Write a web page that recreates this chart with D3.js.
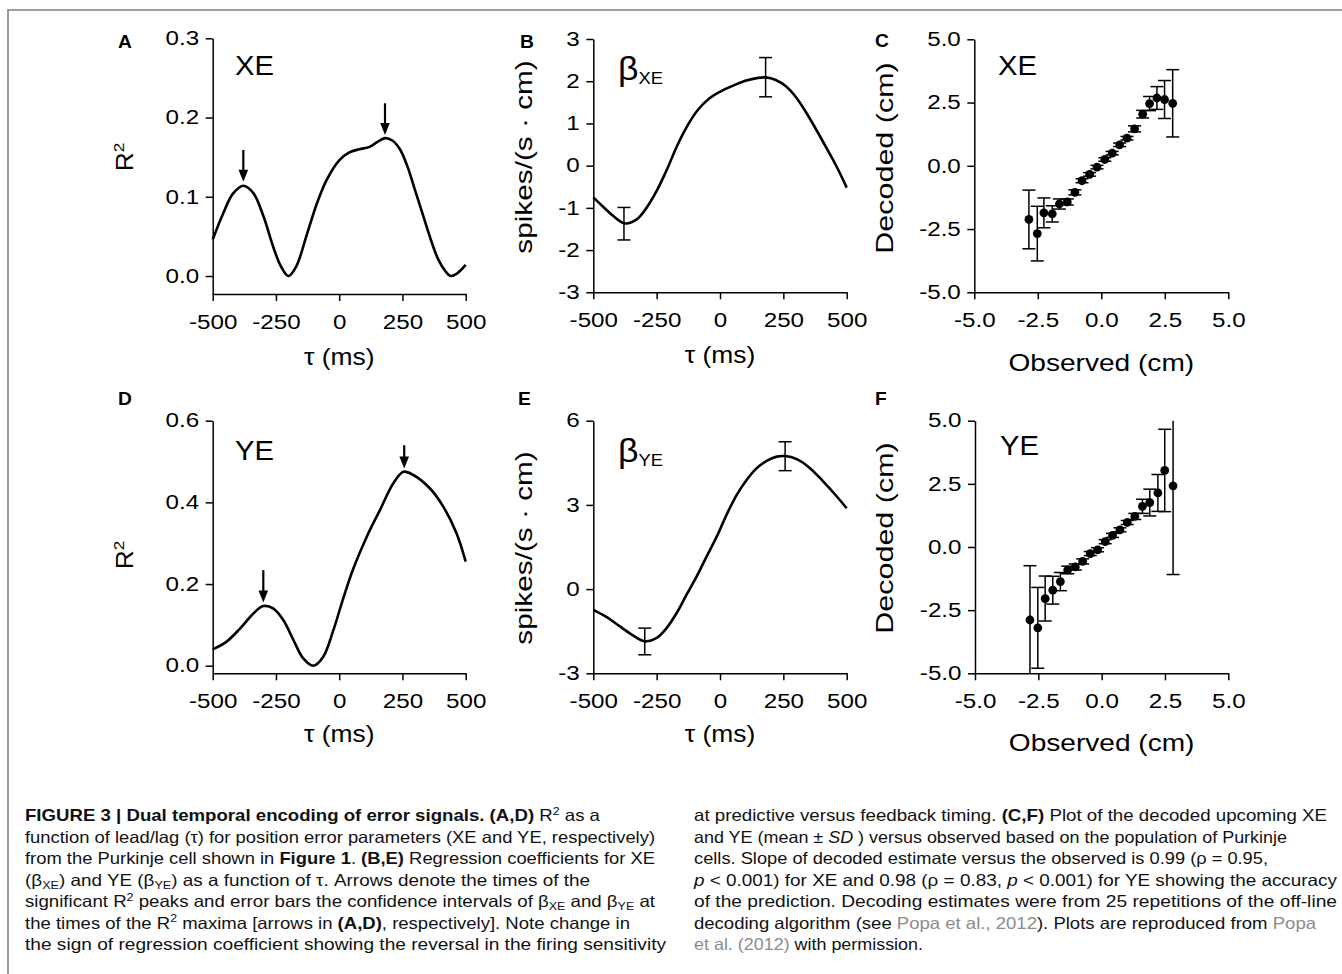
<!DOCTYPE html>
<html>
<head>
<meta charset="utf-8">
<script src="https://cdn.jsdelivr.net/npm/d3@7"></script>
<style>
  body { margin: 0; background: #fff; }
  svg { display: block; }
</style>
</head>
<body>
<div id="chart"></div>
<script>
// R^2 vs lead/lag, panel A (XE)
const tauA = [-500,-460,-420,-379,-340,-300,-260,-230,-201,-170,-130,-90,-50,0,40,80,120,150,181,210,240,270,300,330,360,390,420,440,465,500];
const r2A  = [0.046,0.078,0.104,0.114,0.105,0.076,0.036,0.012,0.0,0.012,0.050,0.090,0.121,0.146,0.156,0.160,0.163,0.169,0.174,0.171,0.160,0.138,0.108,0.078,0.048,0.022,0.006,0.0,0.003,0.014];
const arrowsA = [{ tau: -379, from: 0.159, to: 0.119 }, { tau: 181, from: 0.218, to: 0.178 }];

// R^2 vs lead/lag, panel D (YE)
const tauD = [-500,-445,-392,-339,-300,-260,-221,-181,-142,-102,-63,-23,16,56,109,161,214,254,293,359,412,464,500];
const r2D  = [0.040,0.059,0.091,0.128,0.146,0.140,0.112,0.063,0.018,0.0,0.022,0.087,0.165,0.238,0.316,0.381,0.447,0.475,0.467,0.434,0.389,0.324,0.255];
const arrowsD = [{ tau: -300, from: 0.234, to: 0.155 }, { tau: 257, from: 0.54, to: 0.483 }];

// Regression coefficient beta_XE, panel B
const tauB = [-500,-460,-420,-375,-330,-290,-250,-210,-170,-130,-90,-40,0,50,100,150,180,220,260,300,340,380,420,460,500];
const betaXE = [-0.75,-0.98,-1.2,-1.37,-1.28,-1.0,-0.6,-0.1,0.46,0.93,1.30,1.6,1.75,1.89,2.01,2.08,2.09,2.03,1.88,1.62,1.26,0.85,0.42,-0.02,-0.52];
const ciXE = [{ tau: -379, lo: -1.76, hi: -0.99 }, { tau: 180, lo: 1.63, hi: 2.56 }];

// Regression coefficient beta_YE, panel E
const tauE = [-500,-447,-395,-342,-296,-250,-211,-171,-132,-92,-53,-13,26,66,105,145,184,224,257,303,355,408,461,500];
const betaYE = [-0.74,-1.0,-1.33,-1.66,-1.86,-1.74,-1.39,-0.85,-0.20,0.45,1.16,1.87,2.65,3.36,3.89,4.31,4.57,4.72,4.74,4.63,4.31,3.83,3.30,2.88];
const ciYE = [{ tau: -297, lo: -2.34, hi: -1.39 }, { tau: 257, lo: 4.22, hi: 5.25 }];

// Decoded vs observed, panel C (XE)
const obsXE = [-2.85,-2.52,-2.26,-1.93,-1.65,-1.34,-1.04,-0.76,-0.46,-0.17,0.14,0.43,0.72,1.01,1.31,1.63,1.90,2.19,2.49,2.81];
const decXE = [-2.12,-2.68,-1.86,-1.90,-1.51,-1.43,-1.05,-0.59,-0.34,-0.05,0.25,0.50,0.83,1.09,1.46,2.04,2.46,2.68,2.62,2.47];
const sdXE  = [1.16,1.08,0.59,0.32,0.20,0.12,0.10,0.08,0.07,0.07,0.07,0.07,0.07,0.07,0.12,0.15,0.28,0.45,0.75,1.33];

// Decoded vs observed, panel F (YE)
const obsYE = [-2.83,-2.52,-2.23,-1.93,-1.63,-1.34,-1.04,-0.75,-0.45,-0.16,0.14,0.43,0.72,1.01,1.31,1.61,1.90,2.22,2.49,2.82];
const decYE = [-2.89,-3.20,-2.04,-1.71,-1.37,-0.91,-0.79,-0.57,-0.26,-0.11,0.21,0.46,0.68,0.97,1.21,1.61,1.76,2.14,3.03,2.42];
const sdYE  = [2.15,1.60,0.89,0.55,0.36,0.15,0.12,0.10,0.08,0.08,0.08,0.08,0.08,0.08,0.12,0.28,0.53,0.73,1.63,3.51];

// Tick labels
const tauTicks = [-500, -250, 0, 250, 500];
const cmTicks = [-5, -2.5, 0, 2.5, 5];
const r2TicksA = [0, 0.1, 0.2, 0.3];
const r2TicksD = [0, 0.2, 0.4, 0.6];
const betaTicksB = [-3, -2, -1, 0, 1, 2, 3];
const betaTicksE = [-3, 0, 3, 6];

// Caption lines: [text, style] segments
const captionLeft = [
  [["FIGURE 3 | Dual temporal encoding of error signals. (A,D)", "b"], [" R", ""], ["2", "sup"], [" as a", ""]],
  [["function of lead/lag (τ) for position error parameters (XE and YE, respectively)", ""]],
  [["from the Purkinje cell shown in ", ""], ["Figure 1", "b"], [". ", ""], ["(B,E)", "b"], [" Regression coefficients for XE", ""]],
  [["(β", ""], ["XE", "sub"], [") and YE (β", ""], ["YE", "sub"], [") as a function of τ. Arrows denote the times of the", ""]],
  [["significant R", ""], ["2", "sup"], [" peaks and error bars the confidence intervals of β", ""], ["XE", "sub"], [" and β", ""], ["YE", "sub"], [" at", ""]],
  [["the times of the R", ""], ["2", "sup"], [" maxima [arrows in ", ""], ["(A,D)", "b"], [", respectively]. Note change in", ""]],
  [["the sign of regression coefficient showing the reversal in the firing sensitivity", ""]]
];
const captionLeftEnds = [600, 655, 655, 590, 655, 630, 666];
const captionRight = [
  [["at predictive versus feedback timing. ", ""], ["(C,F)", "b"], [" Plot of the decoded upcoming XE", ""]],
  [["and YE (mean ± ", ""], ["SD", "i"], [" ) versus observed based on the population of Purkinje", ""]],
  [["cells. Slope of decoded estimate versus the observed is 0.99 (ρ = 0.95,", ""]],
  [["p", "i"], [" < 0.001) for XE and 0.98 (ρ = 0.83, ", ""], ["p", "i"], [" < 0.001) for YE showing the accuracy", ""]],
  [["of the prediction. Decoding estimates were from 25 repetitions of the off-line", ""]],
  [["decoding algorithm (see ", ""], ["Popa et al., 2012", "link"], ["). Plots are reproduced from ", ""], ["Popa", "link"]],
  [["et al. (2012)", "link"], [" with permission.", ""]]
];
const captionRightEnds = [1327, 1287, 1268, 1337, 1337, 1316, 923];

const width = 1342;
const height = 974;
const FONT = "'Liberation Sans', Arial, sans-serif";

const svg = d3.select("#chart").append("svg")
    .attr("width", width)
    .attr("height", height)
    .attr("viewBox", [0, 0, width, height])
    .style("font-family", FONT);

// Frame (top and left rule)
svg.append("path")
    .attr("d", `M8,${height} V10 H${width}`)
    .attr("fill", "none")
    .attr("stroke", "#808080")
    .attr("stroke-width", 1.6);

// widen text along its own direction, the figure's font is broader than Arial
function stretch(sel, k) {
  sel.each(function() {
    const w = this.getComputedTextLength();
    d3.select(this).attr("textLength", w * k).attr("lengthAdjust", "spacingAndGlyphs");
  });
}

const fmt1 = d => d.toFixed(1);
const fmt0 = d => d3.format("d")(d).replace("−", "-");

function makePanel(p) {
  const x = d3.scaleLinear().domain(p.xDomain).range([p.left, p.right]);
  const y = d3.scaleLinear().domain(p.yDomain).range([p.bottom, p.top]);
  const g = svg.append("g");

  const xAxis = g.append("g")
      .attr("transform", `translate(0,${p.bottom})`)
      .call(d3.axisBottom(x).tickValues(p.xTicks).tickFormat(p.xFmt)
        .tickSize(7).tickSizeOuter(0).tickPadding(14));
  const yAxis = g.append("g")
      .attr("transform", `translate(${p.left},0)`)
      .call(d3.axisLeft(y).tickValues(p.yTicks).tickFormat(p.yFmt)
        .tickSize(7).tickSizeOuter(0).tickPadding(6.5));
  [xAxis, yAxis].forEach(a => {
    a.attr("font-family", FONT).attr("font-size", 19.5);
    a.selectAll("path, line").attr("stroke", "#000").attr("stroke-width", 1.5);
    a.selectAll("text").attr("fill", "#000");
    stretch(a.selectAll("text"), 1.24);
  });

  // Axis titles
  const xt = g.append("text")
      .attr("x", (p.left + p.right) / 2)
      .attr("y", p.bottom + p.xTitleGap)
      .attr("text-anchor", "middle")
      .attr("font-size", 24)
      .text(p.xTitle);
  stretch(xt, p.xTitleStretch);

  const yt = g.append("text")
      .attr("transform", `translate(${p.yTitleX},${p.yTitleY}) rotate(-90)`)
      .attr("text-anchor", "middle")
      .attr("font-size", 24);
  p.yTitle.forEach(([t, s]) => {
    const ts = yt.append("tspan").text(t);
    if (s === "sup") ts.attr("font-size", 15.5).attr("dy", -9);
  });
  stretch(yt, p.yTitleStretch);

  // Panel letter
  const lt = g.append("text")
      .attr("x", p.letterX).attr("y", p.letterY)
      .attr("font-size", 17.5).attr("font-weight", "bold")
      .text(p.letter);
  stretch(lt, 1.1);

  // Inner label (XE / YE / beta)
  const il = g.append("text").attr("x", p.labelX).attr("y", p.labelY);
  if (p.beta) {
    il.append("tspan").attr("font-size", 33).text("β");
    il.append("tspan").attr("font-size", 17).attr("dy", 4).text(p.label);
  } else {
    il.attr("font-size", 27).text(p.label);
  }
  stretch(il, 1.08);

  return { g, x, y };
}

function drawCurve(panel, xs, ys) {
  const data = xs.map((t, i) => ({ t, v: ys[i] }));
  panel.g.append("path")
      .datum(data)
      .attr("fill", "none")
      .attr("stroke", "#000")
      .attr("stroke-width", 2.6)
      .attr("stroke-linejoin", "round")
      .attr("d", d3.line().curve(d3.curveCatmullRom.alpha(0.5)).x(d => panel.x(d.t)).y(d => panel.y(d.v)));
}

function drawArrows(panel, arrows) {
  arrows.forEach(a => {
    const cx = panel.x(a.tau);
    const y0 = panel.y(a.from);
    const y1 = panel.y(a.to);
    panel.g.append("line")
        .attr("x1", cx).attr("x2", cx)
        .attr("y1", y0).attr("y2", y1 - 8)
        .attr("stroke", "#000").attr("stroke-width", 2.2);
    panel.g.append("path")
        .attr("d", `M${cx - 4.8},${y1 - 12} L${cx + 4.8},${y1 - 12} L${cx},${y1} Z`)
        .attr("fill", "#000");
  });
}

function drawErrorBars(panel, bars, capHalf) {
  const [ymin, ymax] = panel.y.domain();
  bars.forEach(b => {
    const cx = panel.x(b.x);
    const lo = Math.max(b.lo, ymin);
    const hi = Math.min(b.hi, ymax);
    panel.g.append("line")
        .attr("x1", cx).attr("x2", cx)
        .attr("y1", panel.y(lo)).attr("y2", panel.y(hi))
        .attr("stroke", "#000").attr("stroke-width", 1.5);
    [[b.lo, lo], [b.hi, hi]].forEach(([v, c]) => {
      if (v !== c) return;
      panel.g.append("line")
          .attr("x1", cx - capHalf).attr("x2", cx + capHalf)
          .attr("y1", panel.y(v)).attr("y2", panel.y(v))
          .attr("stroke", "#000").attr("stroke-width", 1.5);
    });
  });
}

function drawScatter(panel, xs, ys, sds) {
  drawErrorBars(panel, xs.map((v, i) => ({ x: v, lo: ys[i] - sds[i], hi: ys[i] + sds[i] })), 6.5);
  panel.g.selectAll(null)
      .data(xs.map((v, i) => ({ x: v, y: ys[i] })))
      .join("circle")
      .attr("cx", d => panel.x(d.x))
      .attr("cy", d => panel.y(d.y))
      .attr("r", 4.4)
      .attr("fill", "#000");
}

const R2 = [["R", ""], ["2", "sup"]];
const SPIKES = [["spikes/(s · cm)", ""]];
const DECODED = [["Decoded (cm)", ""]];

// Panel A
const pA = makePanel({ left: 212.7, right: 465.7, top: 38.3, bottom: 294, xDomain: [-500, 500],
  yDomain: [-0.0227, 0.3], xTicks: tauTicks, yTicks: r2TicksA, xFmt: fmt0, yFmt: fmt1,
  xTitle: "τ (ms)", xTitleGap: 71, xTitleStretch: 1.1, yTitle: R2, yTitleX: 133, yTitleY: 157, yTitleStretch: 1.1,
  letter: "A", letterX: 118, letterY: 48, label: "XE", labelX: 235, labelY: 75 });
drawCurve(pA, tauA, r2A);
drawArrows(pA, arrowsA);

// Panel B
const pB = makePanel({ left: 593.3, right: 846.7, top: 39, bottom: 292.3, xDomain: [-500, 500],
  yDomain: [-3, 3], xTicks: tauTicks, yTicks: betaTicksB, xFmt: fmt0, yFmt: fmt0,
  xTitle: "τ (ms)", xTitleGap: 71, xTitleStretch: 1.1, yTitle: SPIKES, yTitleX: 532, yTitleY: 157, yTitleStretch: 1.24,
  letter: "B", letterX: 520, letterY: 48, label: "XE", labelX: 618, labelY: 80, beta: true });
drawCurve(pB, tauB, betaXE);
drawErrorBars(pB, ciXE.map(c => ({ x: c.tau, lo: c.lo, hi: c.hi })), 6.5);

// Panel C
const pC = makePanel({ left: 974.3, right: 1228.3, top: 39.3, bottom: 292.3, xDomain: [-5, 5],
  yDomain: [-5, 5], xTicks: cmTicks, yTicks: cmTicks, xFmt: fmt1, yFmt: fmt1,
  xTitle: "Observed (cm)", xTitleGap: 79, xTitleStretch: 1.17, yTitle: DECODED, yTitleX: 893, yTitleY: 158, yTitleStretch: 1.27,
  letter: "C", letterX: 875, letterY: 47, label: "XE", labelX: 998, labelY: 75 });
drawScatter(pC, obsXE, decXE, sdXE);

// Panel D
const pD = makePanel({ left: 212.7, right: 465.7, top: 420.7, bottom: 673.3, xDomain: [-500, 500],
  yDomain: [-0.0186, 0.6], xTicks: tauTicks, yTicks: r2TicksD, xFmt: fmt0, yFmt: fmt1,
  xTitle: "τ (ms)", xTitleGap: 69, xTitleStretch: 1.1, yTitle: R2, yTitleX: 133, yTitleY: 555, yTitleStretch: 1.1,
  letter: "D", letterX: 118, letterY: 405, label: "YE", labelX: 235, labelY: 460 });
drawCurve(pD, tauD, r2D);
drawArrows(pD, arrowsD);

// Panel E
const pE = makePanel({ left: 593.3, right: 846.7, top: 420.7, bottom: 673.3, xDomain: [-500, 500],
  yDomain: [-3, 6], xTicks: tauTicks, yTicks: betaTicksE, xFmt: fmt0, yFmt: fmt0,
  xTitle: "τ (ms)", xTitleGap: 69, xTitleStretch: 1.1, yTitle: SPIKES, yTitleX: 532, yTitleY: 548, yTitleStretch: 1.24,
  letter: "E", letterX: 518, letterY: 405, label: "YE", labelX: 618, labelY: 462, beta: true });
drawCurve(pE, tauE, betaYE);
drawErrorBars(pE, ciYE.map(c => ({ x: c.tau, lo: c.lo, hi: c.hi })), 6.5);

// Panel F
const pF = makePanel({ left: 975, right: 1228.3, top: 420.7, bottom: 673.3, xDomain: [-5, 5],
  yDomain: [-5, 5], xTicks: cmTicks, yTicks: cmTicks, xFmt: fmt1, yFmt: fmt1,
  xTitle: "Observed (cm)", xTitleGap: 78, xTitleStretch: 1.17, yTitle: DECODED, yTitleX: 893, yTitleY: 538, yTitleStretch: 1.27,
  letter: "F", letterX: 875, letterY: 405, label: "YE", labelX: 1000, labelY: 455 });
drawScatter(pF, obsYE, decYE, sdYE);

// Caption
function drawCaption(lines, ends, x0, y0, lineH) {
  lines.forEach((segs, i) => {
    const t = svg.append("text")
        .attr("x", x0).attr("y", y0 + i * lineH)
        .attr("font-size", 16.5)
        .attr("fill", "#111");
    let shift = 0;
    segs.forEach(([s, style]) => {
      const ts = t.append("tspan").text(s);
      let target = 0;
      if (style === "b") ts.attr("font-weight", "bold");
      if (style === "i") ts.attr("font-style", "italic");
      if (style === "link") ts.attr("fill", "#8c8c8c");
      if (style === "sup") { ts.attr("font-size", 11); target = -6.5; }
      if (style === "sub") { ts.attr("font-size", 11); target = 3; }
      if (target !== shift) ts.attr("dy", target - shift);
      shift = target;
    });
    t.attr("textLength", ends[i] - x0).attr("lengthAdjust", "spacingAndGlyphs");
  });
}
drawCaption(captionLeft, captionLeftEnds, 25, 821, 21.5);
drawCaption(captionRight, captionRightEnds, 694, 821, 21.5);
</script>
</body>
</html>
